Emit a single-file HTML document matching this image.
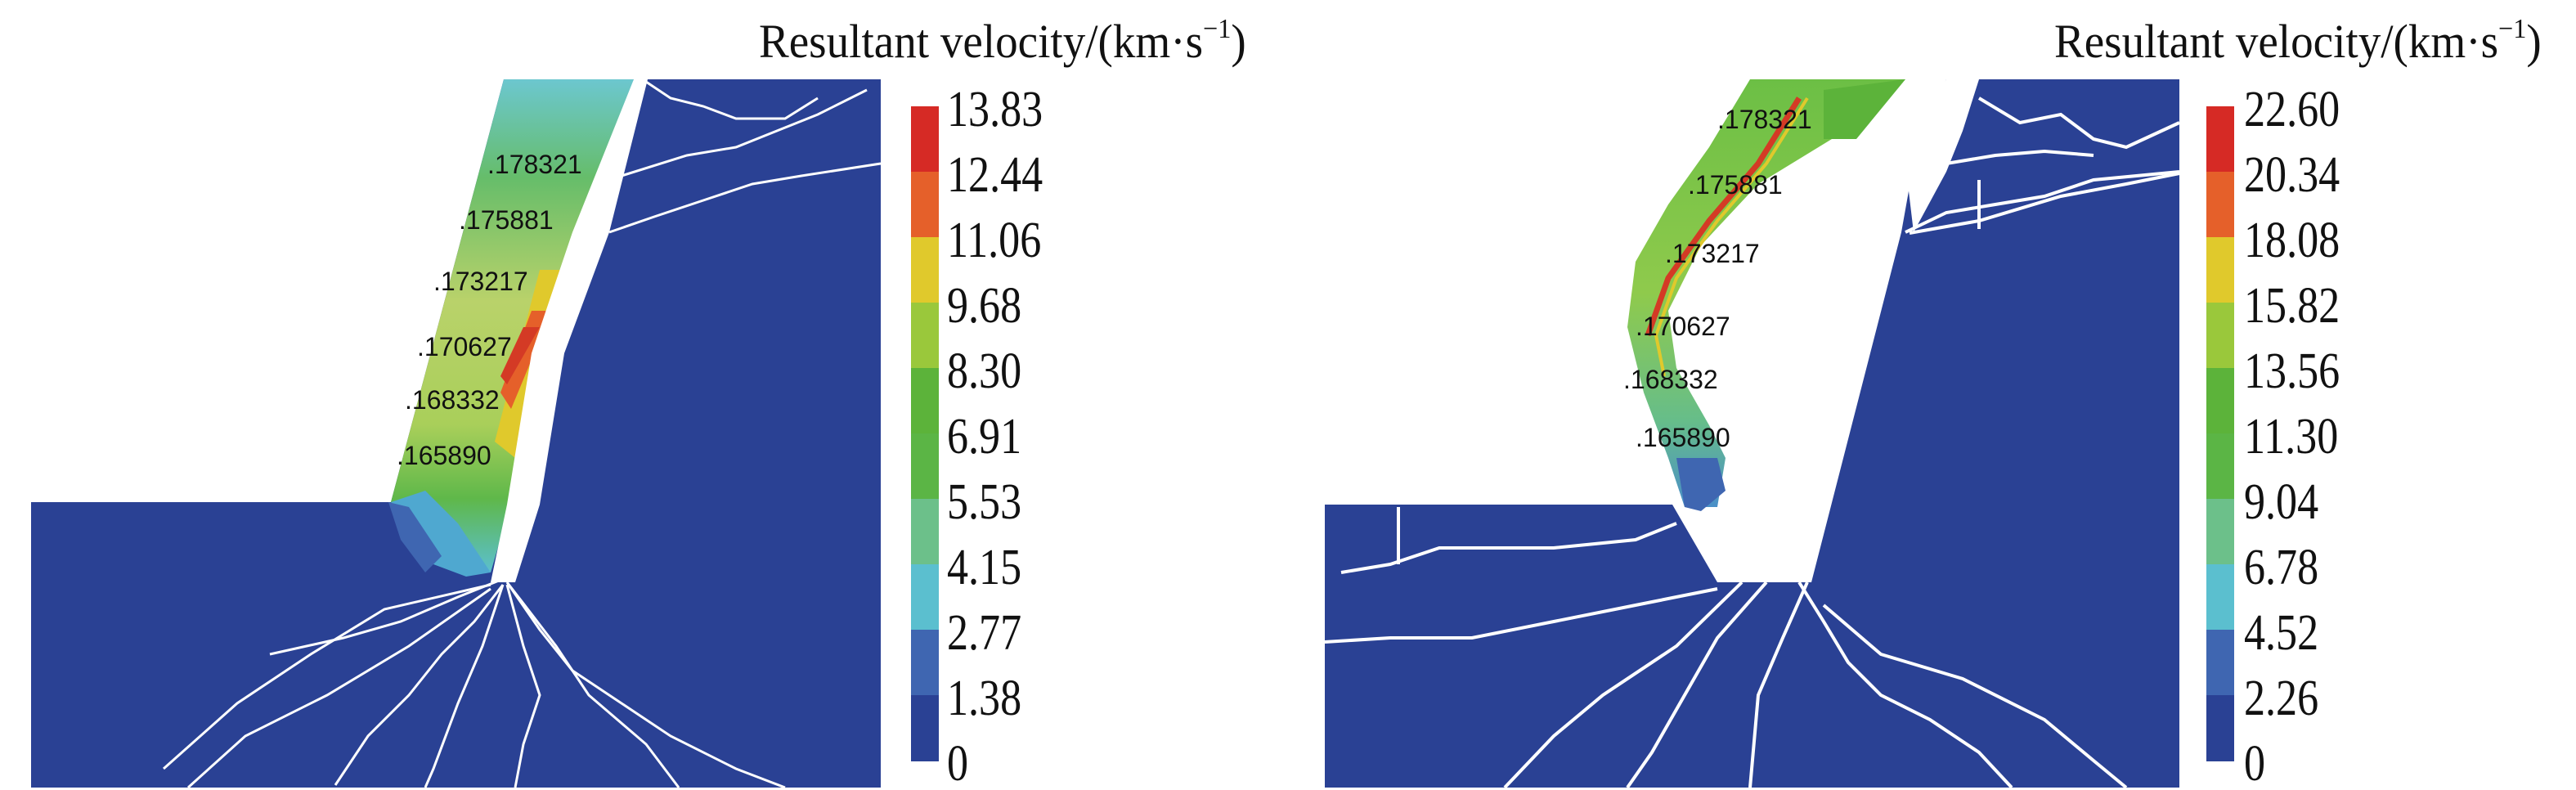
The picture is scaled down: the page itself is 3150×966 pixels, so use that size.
<!DOCTYPE html>
<html><head><meta charset="utf-8"><style>
html,body{margin:0;padding:0;background:#fff;}
svg{display:block;}
.t{font-family:"Liberation Serif",serif;fill:#111;}
.n{font-family:"Liberation Sans",sans-serif;font-size:32px;fill:#111;}
</style></head><body>
<svg width="3150" height="966" viewBox="0 0 3150 966" xmlns="http://www.w3.org/2000/svg">
<defs>
<linearGradient id="bandL" x1="0" y1="0" x2="0" y2="1">
<stop offset="0" stop-color="#6cc7cf"/><stop offset="0.2" stop-color="#66bd6a"/><stop offset="0.45" stop-color="#b9d26a"/><stop offset="0.7" stop-color="#a9cf5a"/><stop offset="0.85" stop-color="#5fb84a"/><stop offset="1" stop-color="#5bbfcf"/>
</linearGradient>
<linearGradient id="bandR" x1="0" y1="0" x2="0" y2="1">
<stop offset="0" stop-color="#6cbf45"/><stop offset="0.5" stop-color="#8fca4c"/><stop offset="0.8" stop-color="#66bd8a"/><stop offset="1" stop-color="#4a8fc8"/>
</linearGradient>
</defs>

<!-- LEFT PANEL -->
<rect x="38" y="97" width="1039" height="866" fill="#2a4194"/>
<polygon points="38,97 616,97 478,614 38,614" fill="#fff"/>
<polygon points="616,97 775,97 600,700 560,700 520,660 478,614" fill="url(#bandL)"/>
<polygon points="478,614 520,600 560,640 600,700 570,705 530,690" fill="#4fa8d0"/>
<polygon points="475,614 500,620 540,680 520,700 490,660" fill="#3f66b1"/>
<polygon points="660,330 690,330 630,560 605,540" fill="#e0c92c"/>
<polygon points="650,380 675,380 625,500 612,480" fill="#e5602a"/>
<polygon points="640,400 660,400 620,470 612,460" fill="#d43a25"/>
<polygon points="775,97 792,97 745,284 690,432 660,617 630,712 600,712 620,617 650,432 700,284" fill="#fff"/>
<g stroke="#fff" stroke-width="3" fill="none">
<polyline points="745,284 800,265 860,245 920,225 980,215 1077,200"/>
<polyline points="760,215 840,190 900,180 950,160 1000,140 1060,110"/>
<polyline points="790,100 820,120 860,130 900,145 960,145 1000,120"/>
<polyline points="610,710 560,730 490,760 420,780 330,800"/>
<polyline points="615,715 580,760 540,800 500,850 450,900 410,960"/>
<polyline points="615,715 590,790 560,860 530,940 520,963"/>
<polyline points="620,715 640,790 660,850 640,910 630,963"/>
<polyline points="620,712 660,770 700,820 760,860 820,900 900,940 960,963"/>
<polyline points="620,712 680,790 720,850 790,910 830,963"/>
<polyline points="600,720 500,790 400,850 300,900 230,963"/>
<polyline points="600,715 470,745 380,800 290,860 200,940"/>
</g>
<g class="n">
<text x="596" y="212">.178321</text>
<text x="561" y="280">.175881</text>
<text x="530" y="355">.173217</text>
<text x="510" y="435">.170627</text>
<text x="495" y="500">.168332</text>
<text x="485" y="568">.165890</text>
</g>
<g>
<rect x="1114" y="130" width="34" height="80" fill="#d62a25"/>
<rect x="1114" y="210" width="34" height="80" fill="#e5602a"/>
<rect x="1114" y="290" width="34" height="80" fill="#e0c92c"/>
<rect x="1114" y="370" width="34" height="80" fill="#9ac83b"/>
<rect x="1114" y="450" width="34" height="80" fill="#5cb33a"/>
<rect x="1114" y="530" width="34" height="80" fill="#5bb545"/>
<rect x="1114" y="610" width="34" height="80" fill="#6cc08a"/>
<rect x="1114" y="690" width="34" height="80" fill="#5bbfcf"/>
<rect x="1114" y="770" width="34" height="80" fill="#3f66b1"/>
<rect x="1114" y="850" width="34" height="81" fill="#2a4194"/>
</g>
<g class="t" font-size="62">
<text transform="translate(1158,154) scale(0.84,1)">13.83</text>
<text transform="translate(1158,234) scale(0.84,1)">12.44</text>
<text transform="translate(1158,314) scale(0.84,1)">11.06</text>
<text transform="translate(1158,394) scale(0.84,1)">9.68</text>
<text transform="translate(1158,474) scale(0.84,1)">8.30</text>
<text transform="translate(1158,554) scale(0.84,1)">6.91</text>
<text transform="translate(1158,634) scale(0.84,1)">5.53</text>
<text transform="translate(1158,714) scale(0.84,1)">4.15</text>
<text transform="translate(1158,794) scale(0.84,1)">2.77</text>
<text transform="translate(1158,874) scale(0.84,1)">1.38</text>
<text transform="translate(1158,954) scale(0.84,1)">0</text>
</g>
<text class="t" font-size="58" transform="translate(928,70) scale(0.95,1)">Resultant velocity/(km·s<tspan font-size="34" dy="-24">−1</tspan><tspan dy="24">)</tspan></text>

<!-- RIGHT PANEL -->
<rect x="1620" y="97" width="1045" height="866" fill="#2a4194"/>
<polygon points="1620,97 2380,97 2340,200 2325,284 2215,712 2100,712 2045,617 1620,617" fill="#fff"/>
<polygon points="2380,97 2420,97 2400,160 2380,210 2340,284 2330,200" fill="#fff"/>
<g stroke="#fff" stroke-width="4" fill="none">
<polyline points="2420,120 2470,150 2520,140 2560,170 2600,180 2665,150"/>
<polyline points="2380,200 2440,190 2500,185 2560,190"/>
<polyline points="2330,284 2380,260 2440,250 2500,240 2560,220 2665,210"/>
<polyline points="2335,285 2420,270 2520,240 2600,225 2665,212"/>
<polyline points="1640,700 1700,690 1760,670 1900,670 2000,660 2050,640"/>
<polyline points="1620,785 1700,780 1800,780 1900,760 2000,740 2100,720"/>
<polyline points="2200,712 2230,760 2260,810 2300,850 2360,880 2420,920 2460,963"/>
<polyline points="2210,712 2180,780 2150,850 2140,963"/>
<polyline points="2160,712 2100,780 2060,850 2020,920 1990,963"/>
<polyline points="2130,712 2050,790 1960,850 1900,900 1840,963"/>
<polyline points="2230,740 2300,800 2400,830 2500,880 2560,930 2600,963"/>
<polyline points="1710,620 1710,690"/>
<polyline points="2420,220 2420,280"/>
</g>
<path d="M2140,97 L2330,97 L2240,170 L2150,225 L2080,300 L2040,380 L2050,450 L2090,520 L2110,560 L2100,620 L2060,620 L2040,560 L2010,480 L1990,400 L2000,320 L2040,250 L2090,180 Z" fill="url(#bandR)"/>
<path d="M2200,120 L2150,200 L2090,270 L2040,340 L2015,410" stroke="#d43a25" stroke-width="7" fill="none"/>
<path d="M2210,120 L2160,200 L2100,270 L2050,340 L2025,410 L2035,460" stroke="#e0c92c" stroke-width="4" fill="none"/>
<polygon points="2230,110 2330,97 2270,170 2230,170" fill="#5cb33a"/>
<polygon points="2050,560 2100,560 2110,600 2080,625 2060,620" fill="#3f66b1"/>
<g class="n">
<text x="2100" y="157">.178321</text>
<text x="2064" y="237">.175881</text>
<text x="2036" y="321">.173217</text>
<text x="2000" y="410">.170627</text>
<text x="1985" y="475">.168332</text>
<text x="2000" y="546">.165890</text>
</g>
<g>
<rect x="2698" y="130" width="34" height="80" fill="#d62a25"/>
<rect x="2698" y="210" width="34" height="80" fill="#e5602a"/>
<rect x="2698" y="290" width="34" height="80" fill="#e0c92c"/>
<rect x="2698" y="370" width="34" height="80" fill="#9ac83b"/>
<rect x="2698" y="450" width="34" height="80" fill="#5cb33a"/>
<rect x="2698" y="530" width="34" height="80" fill="#5bb545"/>
<rect x="2698" y="610" width="34" height="80" fill="#6cc08a"/>
<rect x="2698" y="690" width="34" height="80" fill="#5bbfcf"/>
<rect x="2698" y="770" width="34" height="80" fill="#3f66b1"/>
<rect x="2698" y="850" width="34" height="81" fill="#2a4194"/>
</g>
<g class="t" font-size="62">
<text transform="translate(2744,154) scale(0.84,1)">22.60</text>
<text transform="translate(2744,234) scale(0.84,1)">20.34</text>
<text transform="translate(2744,314) scale(0.84,1)">18.08</text>
<text transform="translate(2744,394) scale(0.84,1)">15.82</text>
<text transform="translate(2744,474) scale(0.84,1)">13.56</text>
<text transform="translate(2744,554) scale(0.84,1)">11.30</text>
<text transform="translate(2744,634) scale(0.84,1)">9.04</text>
<text transform="translate(2744,714) scale(0.84,1)">6.78</text>
<text transform="translate(2744,794) scale(0.84,1)">4.52</text>
<text transform="translate(2744,874) scale(0.84,1)">2.26</text>
<text transform="translate(2744,954) scale(0.84,1)">0</text>
</g>
<text class="t" font-size="58" transform="translate(2512,70) scale(0.95,1)">Resultant velocity/(km·s<tspan font-size="34" dy="-24">−1</tspan><tspan dy="24">)</tspan></text>
</svg>
</body></html>
